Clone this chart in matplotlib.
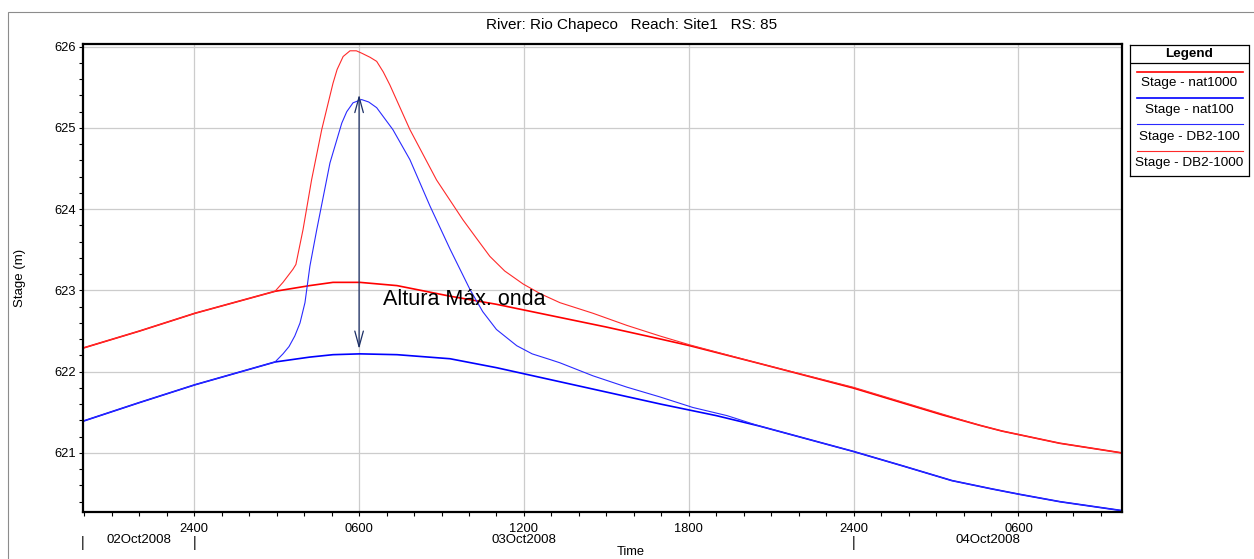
import matplotlib
matplotlib.use('Agg')
import matplotlib.pyplot as plt
import matplotlib.transforms as mtransforms
from matplotlib.patches import Rectangle
from matplotlib.ticker import MultipleLocator

plt.rcParams['font.family'] = ['Liberation Sans', 'DejaVu Sans']

# --- Data (time in hours from 02Oct2008 0000, stage in m) ---
nat1000_t = [19.94, 22.0, 24.03, 26.94, 28.2, 29.05, 30.03, 31.38, 33.31, 35.0, 37.0,
             39.0, 41.0, 42.04, 44.59, 47.98, 51.22, 52.6, 53.4, 55.5, 57.78]
nat1000_s = [622.29, 622.50, 622.72, 622.99, 623.06, 623.10, 623.10, 623.06, 622.93, 622.83, 622.69,
             622.55, 622.40, 622.32, 622.10, 621.80, 621.47, 621.34, 621.27, 621.12, 621.00]

nat100_t = [19.94, 22.0, 24.03, 26.94, 28.2, 29.05, 30.03, 31.38, 33.31, 35.0, 37.0,
            39.0, 41.0, 43.0, 44.59, 47.98, 49.8, 51.58, 53.0, 54.06, 55.52, 57.78]
nat100_s = [621.39, 621.62, 621.84, 622.12, 622.18, 622.21, 622.22, 622.21, 622.16, 622.05, 621.90,
            621.75, 621.60, 621.46, 621.33, 621.02, 620.84, 620.66, 620.56, 620.49, 620.40, 620.29]

db2_100_t = [19.94, 22.0, 24.03, 26.94, 27.23, 27.45, 27.66, 27.85, 28.03, 28.21, 28.46, 28.94,
             29.37, 29.55, 29.78, 30.09, 30.35, 30.64, 31.23, 31.85, 32.58, 33.31, 34.04, 34.5,
             35.0, 35.74, 36.3, 36.95, 37.31, 38.51, 39.75, 40.95, 42.15, 43.39, 44.59, 47.98,
             49.8, 51.58, 53.0, 54.06, 55.52, 57.78]
db2_100_s = [621.39, 621.62, 621.84, 622.12, 622.22, 622.31, 622.44, 622.60, 622.85, 623.30, 623.75, 624.57,
             625.06, 625.20, 625.31, 625.35, 625.32, 625.25, 624.98, 624.61, 624.04, 623.51, 623.01, 622.74,
             622.52, 622.32, 622.22, 622.15, 622.11, 621.95, 621.81, 621.69, 621.56, 621.46, 621.33, 621.02,
             620.84, 620.66, 620.56, 620.49, 620.40, 620.29]

db2_1000_t = [19.94, 22.0, 24.03, 26.94, 27.23, 27.59, 27.70, 27.96, 28.27, 28.64, 29.05,
              29.2, 29.42, 29.67, 29.9, 30.1, 30.4, 30.64, 30.88, 31.12, 31.85, 32.82, 33.78, 34.3,
              34.76, 35.3, 35.97, 36.6, 37.31, 38.51, 39.75, 40.95, 42.04, 44.59, 47.98, 51.22,
              52.6, 53.4, 55.5, 57.78]
db2_1000_s = [622.29, 622.50, 622.72, 622.99, 623.10, 623.26, 623.32, 623.75, 624.36, 624.98, 625.55,
              625.72, 625.88, 625.95, 625.95, 625.92, 625.87, 625.82, 625.69, 625.53, 624.98, 624.36, 623.87, 623.63,
              623.42, 623.24, 623.08, 622.96, 622.85, 622.72, 622.57, 622.44, 622.33, 622.10, 621.81, 621.48,
              621.34, 621.27, 621.12, 621.00]

series_labels = ['Stage - nat1000', 'Stage - nat100', 'Stage - DB2-100', 'Stage - DB2-1000']

x_major = [24, 30, 36, 42, 48, 54]
x_major_labels = ['2400', '0600', '1200', '1800', '2400', '0600']
day_bounds = [19.94, 24, 48]
day_labels = ['02Oct2008', '03Oct2008', '04Oct2008']
day_centers = [21.97, 36, 52.9]

arrow_time = 30.0
arrow_low = 622.28
arrow_high = 625.41
note_text = 'Altura Máx. onda'

W, H = 1254, 559
fig = plt.figure(figsize=(W / 100, H / 100), dpi=100)

# outer gray frame
fig.patches.append(Rectangle((8 / W, -0.05), 1.2, 1 - 12 / H + 0.05, transform=fig.transFigure,
                             fill=False, edgecolor='#8c8c8c', linewidth=0.8))

ax_l, ax_r, ax_t, ax_b = 82.7, 1122.3, 44.3, 512.3
ax = fig.add_axes([ax_l / W, 1 - ax_b / H, (ax_r - ax_l) / W, (ax_b - ax_t) / H])

ax.plot(nat1000_t, nat1000_s, color='#ff0000', linewidth=1.2, label=series_labels[0])
ax.plot(nat100_t, nat100_s, color='#0000ff', linewidth=1.2, label=series_labels[1])
ax.plot(db2_100_t, db2_100_s, color='#2a2aff', linewidth=0.8, label=series_labels[2])
ax.plot(db2_1000_t, db2_1000_s, color='#ff2a2a', linewidth=0.8, label=series_labels[3])

ax.set_xlim(19.94, 57.78)
ax.set_ylim(620.27, 626.03)

ax.set_xticks(x_major)
ax.set_xticklabels(x_major_labels)
ax.xaxis.set_minor_locator(MultipleLocator(1))
ax.yaxis.set_major_locator(MultipleLocator(1))
ax.yaxis.set_minor_locator(MultipleLocator(0.2))
ax.set_yticklabels([f'{v:.0f}' for v in ax.get_yticks()])
ax.tick_params(which='both', direction='out', length=3, width=0.8, labelsize=9.3, pad=2, color='black')
ax.tick_params(axis='x', which='major', pad=5)
ax.grid(True, which='major', color='#cccccc', linewidth=0.9)
ax.set_axisbelow(True)
for sp in ax.spines.values():
    sp.set_linewidth(1.6)
    sp.set_color('black')

fig.text(20 / W, 1 - 278 / H, 'Stage (m)', rotation=90, ha='center', va='center', fontsize=9.5)

# date row under tick labels
trans = mtransforms.blended_transform_factory(ax.transData, fig.transFigure)
for b in day_bounds:
    ax.text(b, 1 - 543 / H, '|', transform=trans, ha='center', va='center', fontsize=10)
for c, lab in zip(day_centers, day_labels):
    ax.text(c, 1 - 540 / H, lab, transform=trans, ha='center', va='center', fontsize=9.5)
fig.text(631 / W, 1 - 552 / H, 'Time', ha='center', va='center', fontsize=9.3)

fig.text(632 / W, 1 - 25 / H, 'River: Rio Chapeco   Reach: Site1   RS: 85',
         ha='center', va='center', fontsize=11)

# annotation arrow
ax.annotate('', xy=(arrow_time, arrow_high), xytext=(arrow_time, arrow_low),
            arrowprops=dict(arrowstyle='<->,head_length=0.8,head_width=0.22',
                            color='#1c2f66', linewidth=0.9, mutation_scale=14,
                            shrinkA=0, shrinkB=0))
ax.text(arrow_time + 0.86, 622.89, note_text, fontsize=15.5, ha='left', va='center', color='black')

# legend box
lg_l, lg_r, lg_t, lg_b = 1130, 1248.5, 45, 176
lax = fig.add_axes([lg_l / W, 1 - lg_b / H, (lg_r - lg_l) / W, (lg_b - lg_t) / H])
lax.set_xlim(lg_l, lg_r)
lax.set_ylim(lg_b, lg_t)
lax.set_xticks([])
lax.set_yticks([])
for sp in lax.spines.values():
    sp.set_linewidth(0.9)
lax.text((lg_l + lg_r) / 2, 53.8, 'Legend', ha='center', va='center', fontsize=9.7, fontweight='bold')
lax.plot([lg_l, lg_r], [63.3, 63.3], color='black', linewidth=0.9)
line_y = [71.7, 98.0, 124.3, 150.7]
text_y = [83.3, 110.0, 136.7, 162.7]
for line, ly, ty in zip(ax.get_lines(), line_y, text_y):
    lax.plot([1137, 1243], [ly, ly], color=line.get_color(), linewidth=line.get_linewidth())
    lax.text((lg_l + lg_r) / 2, ty, line.get_label(), ha='center', va='center', fontsize=9.7)

fig.savefig('out.png', dpi=100)
